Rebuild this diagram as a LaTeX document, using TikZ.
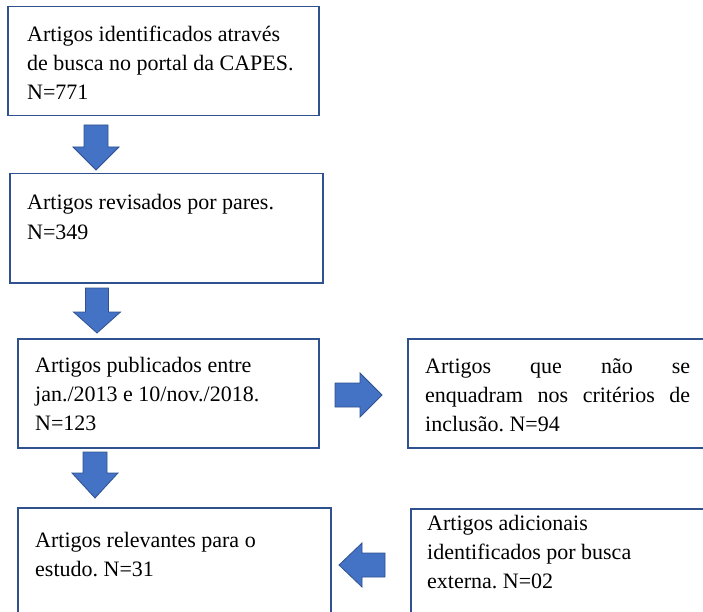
\documentclass[tikz,border=0pt]{standalone}
\usepackage{fontspec}
\setmainfont{Liberation Serif}
\frenchspacing
\definecolor{boxline}{RGB}{47,82,143}
\definecolor{arrfill}{RGB}{68,114,196}
\begin{document}
\begin{tikzpicture}[x=1pt,y=-1pt,
  box/.style={draw=boxline,line width=1.5pt,anchor=north west,inner sep=0pt},
  txt/.style={anchor=base west,inner sep=0pt,align=left,font=\fontsize{22}{29}\selectfont\frenchspacing},
  blockarrow/.style={fill=arrfill,draw=boxline,line width=0.8pt,line join=miter}]
\useasboundingbox (0,0) rectangle (703,612);
\clip (0,0) rectangle (703,612);
% boxes
\node[box,minimum width=311pt,minimum height=109pt] (b1) at (7,6) {};
\node[box,minimum width=313pt,minimum height=109pt] (b2) at (9,173) {};
\node[box,minimum width=301pt,minimum height=109pt] (b3) at (17,338) {};
\node[box,minimum width=313pt,minimum height=109pt] (b4) at (407,338) {};
\node[box,minimum width=313pt,minimum height=125pt] (b5) at (17,507) {};
\node[box,minimum width=310pt,minimum height=125pt] (b6) at (410,508) {};
% texts (base anchor = last line for multi-line left-aligned text)
\node[txt] (t1) at (27,100) {Artigos identificados através\\de busca no portal da CAPES.\\N=771};
\node[txt] (t2) at (27,239) {Artigos revisados por pares.\\N=349};
\node[txt] (t3) at (35,430) {Artigos publicados entre\\jan./2013 e 10/nov./2018.\\N=123};
\node[txt,align=justify,text width=265pt] (t4) at (425,373) {Artigos que não se\linebreak enquadram nos critérios de\linebreak inclusão. N=94};
\node[txt] (t5) at (35,576) {Artigos relevantes para o\\estudo. N=31};
\node[txt] (t6) at (427,588) {Artigos adicionais\\identificados por busca\\externa. N=02};
% block arrows
\draw[blockarrow] (84,125) -- (108,125) -- (108,147) -- (119,147) -- (96,170) -- (73,147) -- (84,147) -- cycle;
\draw[blockarrow] (85.5,288) -- (108.5,288) -- (108.5,312) -- (120.5,312) -- (97,333) -- (73.5,312) -- (85.5,312) -- cycle;
\draw[blockarrow] (83,452) -- (107,452) -- (107,473) -- (118,473) -- (95,498) -- (72,473) -- (83,473) -- cycle;
\draw[blockarrow] (335,383) -- (360,383) -- (360,373) -- (382,395) -- (360,417) -- (360,407) -- (335,407) -- cycle;
\draw[blockarrow] (385,553) -- (362,553) -- (362,543) -- (339,565) -- (362,587) -- (362,577) -- (385,577) -- cycle;
\end{tikzpicture}
\end{document}
